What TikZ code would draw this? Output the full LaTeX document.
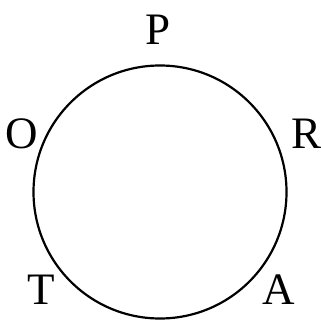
\documentclass[tikz,border=0pt]{standalone}
\usepackage{fontspec}
\setmainfont{Liberation Serif}
\begin{document}
\begin{tikzpicture}[x=1pt,y=-1pt,
  lbl/.style={font=\fontsize{45}{45}\selectfont, inner sep=0pt, anchor=center}]
\useasboundingbox (0,0) rectangle (320,320);
\node[circle, draw, line width=2.2pt, minimum size=253pt, inner sep=0pt] (ring) at (160,192) {};
\node[lbl] (P) at (158,30) {P};
\node[lbl] (O) at (22,134) {O};
\node[lbl] (R) at (306,134) {R};
\node[lbl] (T) at (41,290) {T};
\node[lbl] (A) at (279,290) {A};
\end{tikzpicture}
\end{document}
